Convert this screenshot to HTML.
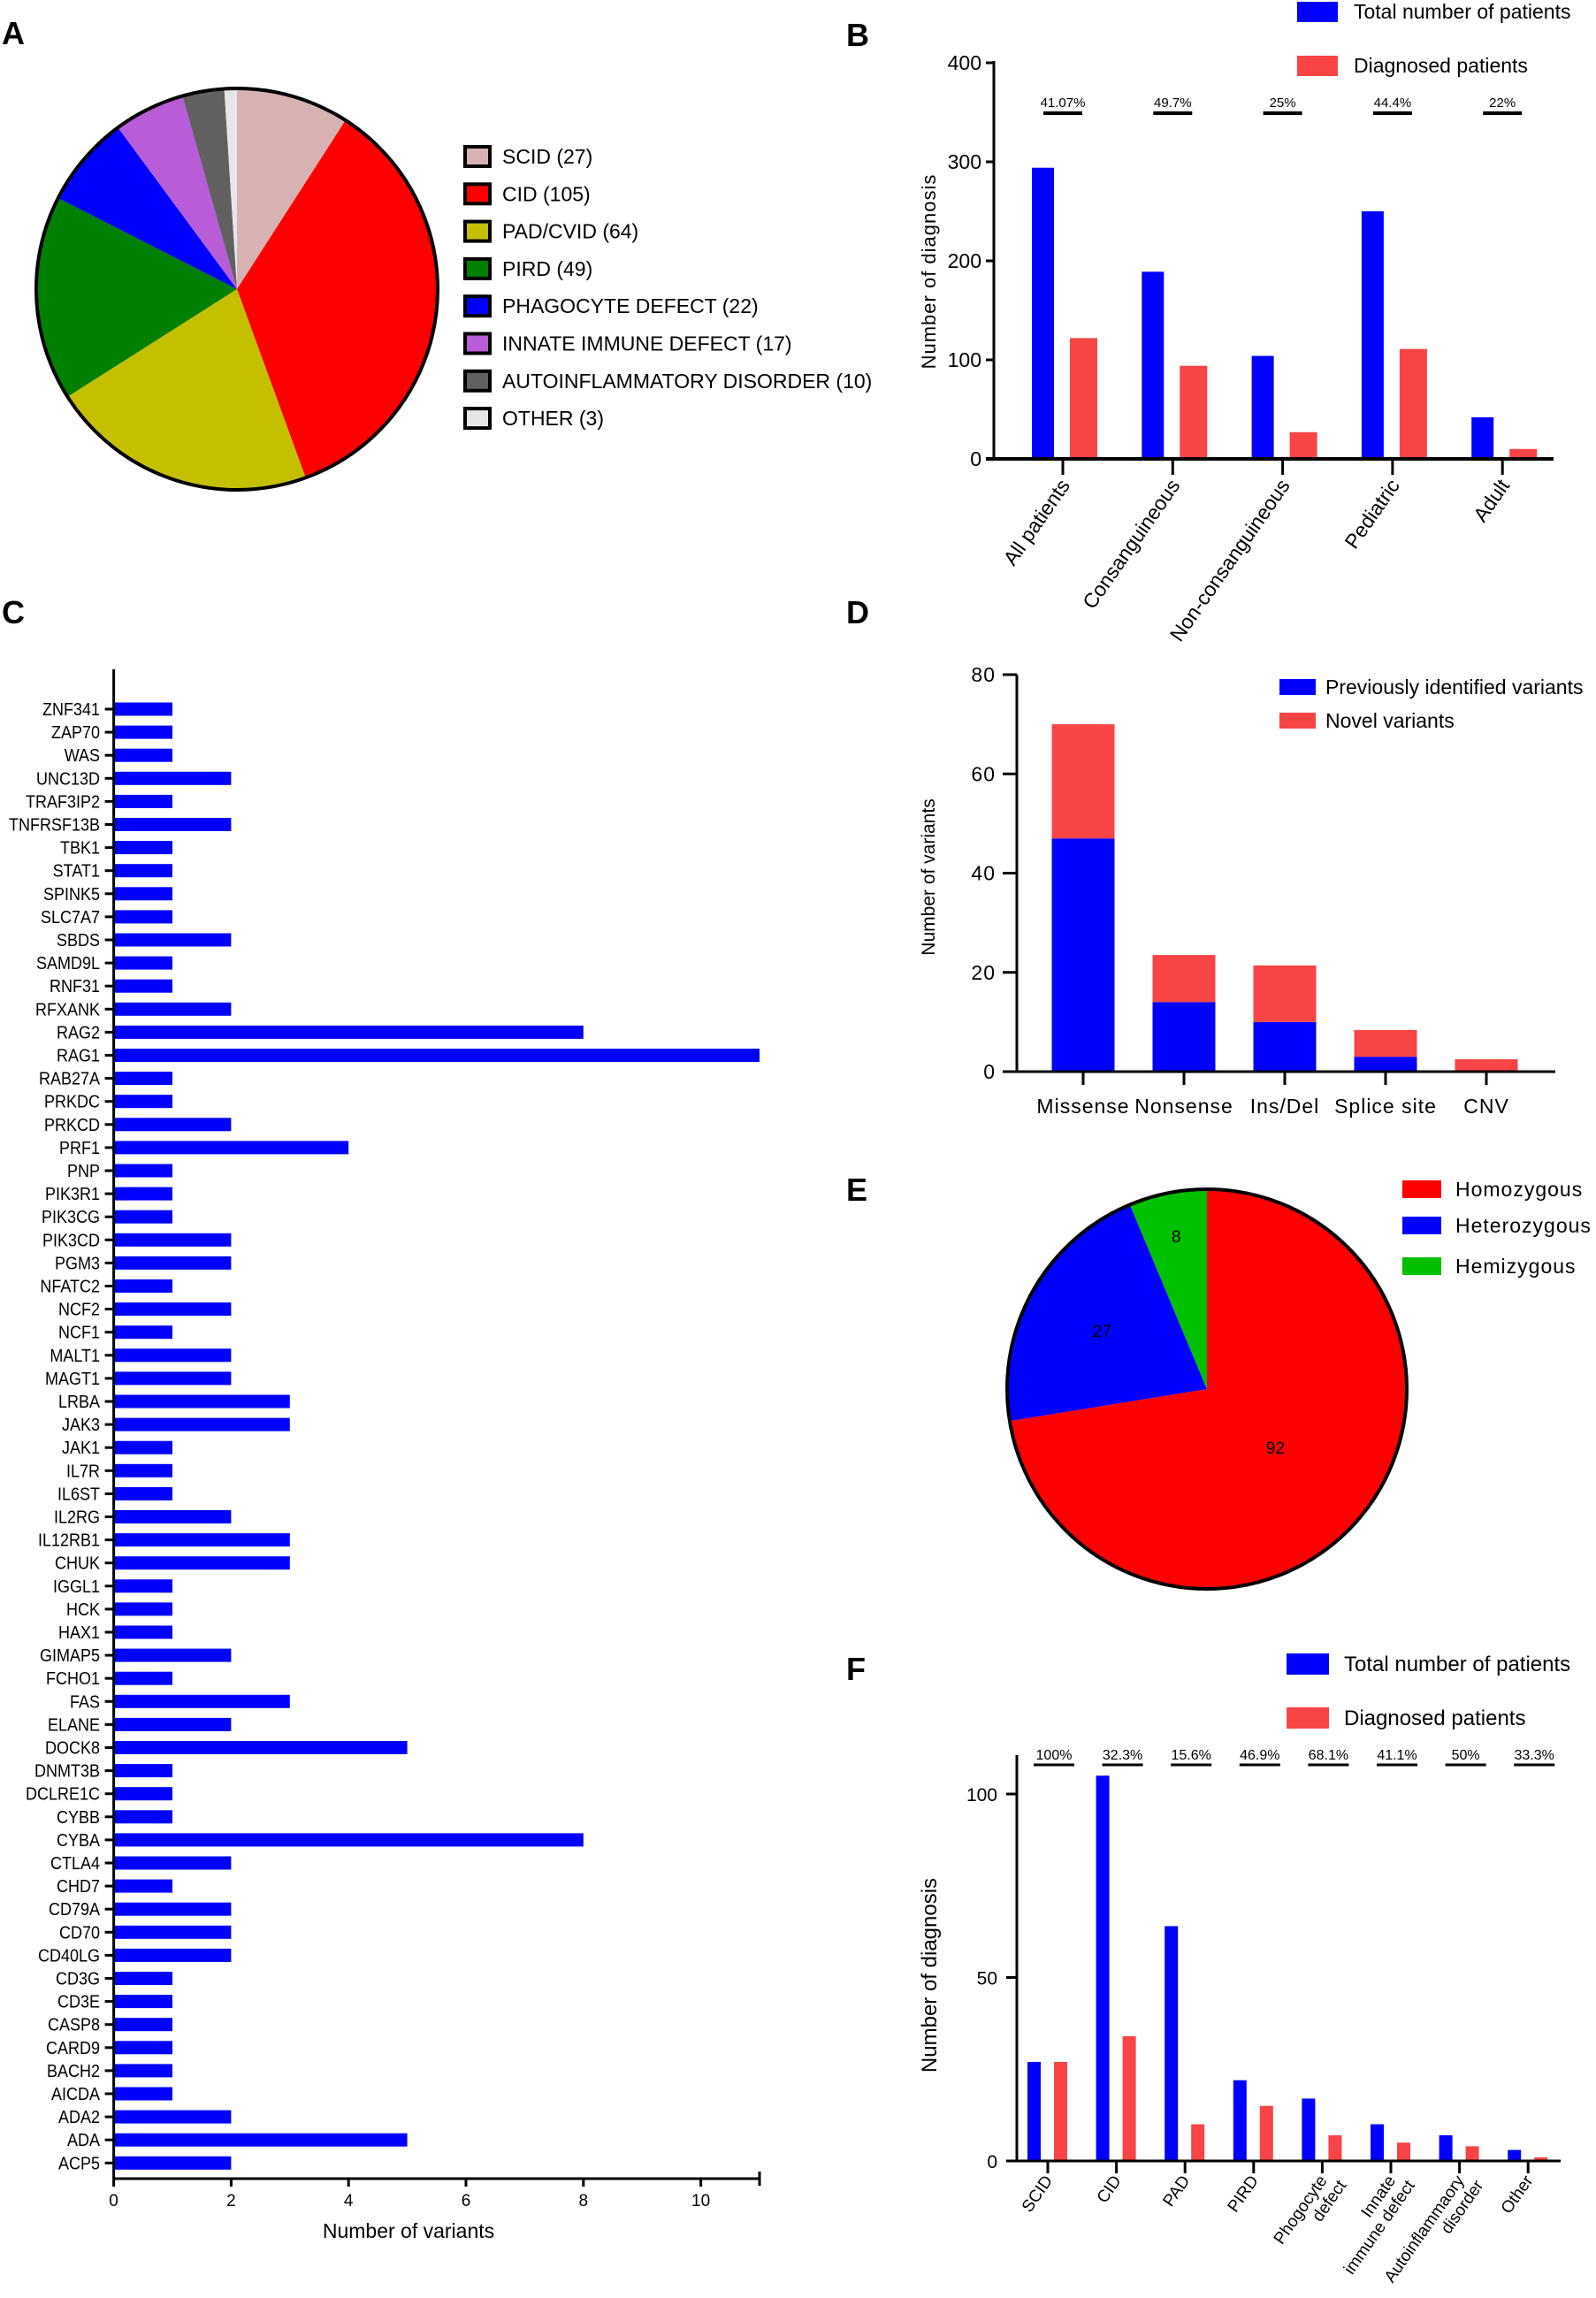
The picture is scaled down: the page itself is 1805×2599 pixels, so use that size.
<!DOCTYPE html>
<html><head><meta charset="utf-8"><style>
html,body{margin:0;padding:0;background:#fff;}
svg{display:block;font-family:"Liberation Sans",Arial,sans-serif;}
</style></head><body>
<svg id="fig" width="1805" height="2599" viewBox="0 0 1805 2599" xmlns="http://www.w3.org/2000/svg">
<rect x="0" y="0" width="1805" height="2599" fill="#fff"/>
</svg>
<script>
// ---- Panel A data ----
const pieACats = ['SCID','CID','PAD/CVID','PIRD','PHAGOCYTE DEFECT','INNATE IMMUNE DEFECT','AUTOINFLAMMATORY DISORDER','OTHER'];
const pieAValues = [27,105,64,49,22,17,10,3];
const pieAColors = ['#d8b2b2','#ff0000','#c4c000','#008000','#0000ff','#b85cd8','#606060','#e6e6e6'];
// ---- Panel B data ----
const bCats = ['All patients','Consanguineous','Non-consanguineous','Pediatric','Adult'];
const bTotal = [294,189,104,250,42];
const bDiag = [122,94,27,111,10];
const bPct = ['41.07%','49.7%','25%','44.4%','22%'];
const bTicks = [0,100,200,300,400];
// ---- Panel C data ----
const cGenes = ['ZNF341','ZAP70','WAS','UNC13D','TRAF3IP2','TNFRSF13B','TBK1','STAT1','SPINK5','SLC7A7','SBDS','SAMD9L','RNF31','RFXANK','RAG2','RAG1','RAB27A','PRKDC','PRKCD','PRF1','PNP','PIK3R1','PIK3CG','PIK3CD','PGM3','NFATC2','NCF2','NCF1','MALT1','MAGT1','LRBA','JAK3','JAK1','IL7R','IL6ST','IL2RG','IL12RB1','CHUK','IGGL1','HCK','HAX1','GIMAP5','FCHO1','FAS','ELANE','DOCK8','DNMT3B','DCLRE1C','CYBB','CYBA','CTLA4','CHD7','CD79A','CD70','CD40LG','CD3G','CD3E','CASP8','CARD9','BACH2','AICDA','ADA2','ADA','ACP5'];
const cValues = [1,1,1,2,1,2,1,1,1,1,2,1,1,2,8,11,1,1,2,4,1,1,1,2,2,1,2,1,2,2,3,3,1,1,1,2,3,3,1,1,1,2,1,3,2,5,1,1,1,8,2,1,2,2,2,1,1,1,1,1,1,2,5,2];
const cTicks = [0,2,4,6,8,10];
// ---- Panel D data ----
const dCats = ['Missense','Nonsense','Ins/Del','Splice site','CNV'];
const dPrev = [47,14,10,3,0];
const dNovel = [23,9.5,11.4,5.4,2.5];
const dTicks = [0,20,40,60,80];
// ---- Panel E data ----
const eCats = ['Homozygous','Heterozygous','Hemizygous'];
const eValues = [92,27,8];
const eColors = ['#ff0000','#0000ff','#00c000'];
// ---- Panel F data ----
const fCats = [['SCID'],['CID'],['PAD'],['PIRD'],['Phogocyte','defect'],['Innate','immune defect'],['Autoinflammaory','disorder'],['Other']];
const fTotal = [27,105,64,22,17,10,7,3];
const fDiag = [27,34,10,15,7,5,4,1];
const fPct = ['100%','32.3%','15.6%','46.9%','68.1%','41.1%','50%','33.3%'];
const fTicks = [0,50,100];

const NS='http://www.w3.org/2000/svg';
const svg=document.getElementById('fig');
function mk(tag,attrs,parent,text){const e=document.createElementNS(NS,tag);for(const k in attrs)e.setAttribute(k,attrs[k]);if(text!==undefined)e.textContent=text;(parent||svg).appendChild(e);return e;}
function grp(name){const g=mk('g',{});return g;}
function pie(g,cx,cy,r,vals,cols,names){
  const tot=vals.reduce((a,b)=>a+b,0);let a0=0;const mids=[];
  vals.forEach((v,i)=>{const a1=a0+v/tot*Math.PI*2;
    const x0=cx+r*Math.sin(a0),y0=cy-r*Math.cos(a0),x1=cx+r*Math.sin(a1),y1=cy-r*Math.cos(a1);
    const large=(a1-a0)>Math.PI?1:0;
    const p=mk('path',{d:`M${cx},${cy}L${x0},${y0}A${r},${r} 0 ${large} 1 ${x1},${y1}Z`,fill:cols[i]},g);
    
    
    mids.push((a0+a1)/2);a0=a1;});
  mk('circle',{cx:cx,cy:cy,r:r,fill:'none',stroke:'#000','stroke-width':4},g);
  return mids;
}
function label(txt,x,y,name){const t=mk('text',{x:x,y:y,'font-size':36,'font-weight':'bold'},svg,txt);}
label('A',2,50,'panel-a-label');label('B',957,52,'panel-b-label');label('C',2,705,'panel-c-label');
label('D',957,705,'panel-d-label');label('E',957,1358,'panel-e-label');label('F',957,1900,'panel-f-label');

// ===== Panel A =====
(function(){const g=grp('panel-a-pie');
pie(g,268,327,227,pieAValues,pieAColors,pieACats);
const lg=grp('panel-a-legend');
pieACats.forEach((c,i)=>{const y=176+i*42.3;
  const b=mk('rect',{x:526,y:y-10,width:28,height:22,fill:pieAColors[i],stroke:'#000','stroke-width':4},lg);
  
  const t=mk('text',{x:568,y:y+9,'font-size':23},lg,c+' ('+pieAValues[i]+')');
  });
})();

// ===== Panel B =====
(function(){const g=grp('panel-b-chart');
const y0=519,yT=71,xA=1124,xE=1757;
const yB=v=>y0-v*(y0-yT)/400; const xB=i=>1202+i*124.3;
bTicks.forEach(t=>{mk('line',{x1:xA-9,x2:xA,y1:yB(t),y2:yB(t),stroke:'#000','stroke-width':3},g);
  const tx=mk('text',{x:xA-14,y:yB(t)+8,'font-size':23,'text-anchor':'end'},g,t);
  });
bCats.forEach((c,i)=>{const x=xB(i);
  const b1=mk('rect',{x:x-35,y:yB(bTotal[i]),width:25,height:y0-yB(bTotal[i]),fill:'#0000ff'},g);
  
  const b2=mk('rect',{x:x+8,y:yB(bDiag[i]),width:31,height:y0-yB(bDiag[i]),fill:'#f84444'},g);
  
  mk('line',{x1:x,x2:x,y1:y0,y2:y0+18,stroke:'#000','stroke-width':3},g);
  const t=mk('text',{x:0,y:0,'font-size':23,'text-anchor':'end',transform:`translate(${x+9},${y0+30}) rotate(-55)`},g,c);
  
  mk('line',{x1:x-22,x2:x+22,y1:128,y2:128,stroke:'#000','stroke-width':4},g);
  const p=mk('text',{x:x,y:121,'font-size':15,'text-anchor':'middle'},g,bPct[i]);
  });
mk('line',{x1:xA,x2:xA,y1:yT-2,y2:y0+2,stroke:'#000','stroke-width':3},g);
mk('line',{x1:xA-9,x2:xE,y1:y0,y2:y0,stroke:'#000','stroke-width':4},g);
const yl=mk('text',{x:0,y:0,'font-size':22,'text-anchor':'middle','letter-spacing':1,transform:'translate(1058,307) rotate(-90)'},g,'Number of diagnosis');

const lg=grp('panel-b-legend');
mk('rect',{x:1467,y:2,width:46,height:23,fill:'#0000ff'},lg);
mk('text',{x:1531,y:21,'font-size':23},lg,'Total number of patients');
mk('rect',{x:1467,y:63,width:46,height:23,fill:'#f84444'},lg);
mk('text',{x:1531,y:82,'font-size':23},lg,'Diagnosed patients');
})();

// ===== Panel C =====
(function(){const g=grp('panel-c-chart');
const xA=128.6,yA=2464;const xC=v=>xA+v*66.4;const yC=i=>802+i*26.1;
cGenes.forEach((n,i)=>{const y=yC(i);
  const b=mk('rect',{x:xA,y:y-7.5,width:xC(cValues[i])-xA,height:15,fill:'#0000ff'},g);
  
  mk('line',{x1:xA-10,x2:xA,y1:y,y2:y,stroke:'#000','stroke-width':3},g);
  const t=mk('text',{x:0,y:0,'font-size':20,'text-anchor':'end',transform:`translate(113,${y+7}) scale(0.9,1)`},g,n);
  });
cTicks.forEach(t=>{mk('line',{x1:xC(t),x2:xC(t),y1:yA,y2:yA+9,stroke:'#000','stroke-width':3},g);
  const tx=mk('text',{x:xC(t),y:yA+31,'font-size':19,'text-anchor':'middle'},g,t);
  });
mk('line',{x1:xC(11),x2:xC(11),y1:yA-8,y2:yA+8,stroke:'#000','stroke-width':3},g);
mk('line',{x1:xA,x2:xA,y1:757,y2:yA,stroke:'#000','stroke-width':3},g);
mk('line',{x1:xA,x2:xC(11),y1:yA,y2:yA,stroke:'#000','stroke-width':3},g);
const xl=mk('text',{x:462,y:2531,'font-size':23,'text-anchor':'middle'},g,'Number of variants');

})();

// ===== Panel D =====
(function(){const g=grp('panel-d-chart');
const y0=1212,xA=1150;const yD=v=>y0-v*5.6125;const xD=i=>1225+i*114;
dTicks.forEach(t=>{mk('line',{x1:xA-16,x2:xA,y1:yD(t),y2:yD(t),stroke:'#000','stroke-width':3},g);
  const tx=mk('text',{x:xA-24,y:yD(t)+8,'font-size':23,'text-anchor':'end','letter-spacing':1},g,t);
  });
dCats.forEach((c,i)=>{const x=xD(i);
  const b1=mk('rect',{x:x-35.5,y:yD(dPrev[i]),width:71,height:y0-yD(dPrev[i]),fill:'#0000ff'},g);
  
  const b2=mk('rect',{x:x-35.5,y:yD(dPrev[i]+dNovel[i]),width:71,height:yD(dPrev[i])-yD(dPrev[i]+dNovel[i]),fill:'#f84444'},g);
  
  mk('line',{x1:x,x2:x,y1:y0,y2:y0+15,stroke:'#000','stroke-width':3},g);
  const t=mk('text',{x:x,y:1259,'font-size':23,'text-anchor':'middle','letter-spacing':1},g,c);
  });
mk('line',{x1:xA,x2:xA,y1:yD(80),y2:y0,stroke:'#000','stroke-width':3},g);
mk('line',{x1:xA-16,x2:1759,y1:y0,y2:y0,stroke:'#000','stroke-width':3},g);
const yl=mk('text',{x:0,y:0,'font-size':21,'text-anchor':'middle',transform:'translate(1057,992) rotate(-90)'},g,'Number of variants');

const lg=grp('panel-d-legend');
mk('rect',{x:1447,y:768,width:41,height:18,fill:'#0000ff'},lg);
mk('text',{x:1499,y:785,'font-size':23},lg,'Previously identified variants');
mk('rect',{x:1447,y:806,width:41,height:18,fill:'#f84444'},lg);
mk('text',{x:1499,y:823,'font-size':23},lg,'Novel variants');
})();

// ===== Panel E =====
(function(){const g=grp('panel-e-pie');
const cx=1365,cy=1571,r=226;
const mids=pie(g,cx,cy,r,eValues,eColors,eCats);
const lr=[0.45,0.6,0.78];
eValues.forEach((v,i)=>{const a=mids[i];
  const t=mk('text',{x:cx+r*lr[i]*Math.sin(a),y:cy-r*lr[i]*Math.cos(a)+7,'font-size':19,'text-anchor':'middle'},g,v);
  });
const lg=grp('panel-e-legend');
eCats.forEach((c,i)=>{const y=[1345,1386,1432][i];
  const b=mk('rect',{x:1586,y:y-10,width:44,height:20,fill:eColors[i]},lg);
  
  const t=mk('text',{x:1646,y:y+8,'font-size':23,'letter-spacing':1},lg,c);
  });
})();

// ===== Panel F =====
(function(){const g=grp('panel-f-chart');
const y0=2444,xA=1150;const yF=v=>y0-v*4.15;const xF=i=>1185+i*77.6;
fTicks.forEach(t=>{mk('line',{x1:xA-12,x2:xA,y1:yF(t),y2:yF(t),stroke:'#000','stroke-width':3},g);
  const tx=mk('text',{x:xA-22,y:yF(t)+8,'font-size':21,'text-anchor':'end'},g,t);
  });
fCats.forEach((c,i)=>{const x=xF(i);
  const b1=mk('rect',{x:x-23,y:yF(fTotal[i]),width:15,height:y0-yF(fTotal[i]),fill:'#0000ff'},g);
  
  const b2=mk('rect',{x:x+7,y:yF(fDiag[i]),width:15,height:y0-yF(fDiag[i]),fill:'#f84444'},g);
  
  mk('line',{x1:x,x2:x,y1:y0,y2:y0+14,stroke:'#000','stroke-width':3},g);
  const t=mk('text',{x:0,y:0,'font-size':19,'text-anchor':'end',transform:`translate(${x+6},${y0+22}) rotate(-55)`},g);
  c.forEach((ln,j)=>{mk('tspan',{x:j?8:0,dy:j?'1.1em':0},t,ln);});
  
  const cxp=x+7;
  mk('line',{x1:cxp-23,x2:cxp+23,y1:1996,y2:1996,stroke:'#000','stroke-width':3},g);
  const p=mk('text',{x:cxp,y:1990,'font-size':16,'text-anchor':'middle'},g,fPct[i]);
  });
mk('line',{x1:xA,x2:xA,y1:1985,y2:y0,stroke:'#000','stroke-width':3},g);
mk('line',{x1:xA-12,x2:1765,y1:y0,y2:y0,stroke:'#000','stroke-width':3},g);
const yl=mk('text',{x:0,y:0,'font-size':24,'text-anchor':'middle',transform:'translate(1059,2234) rotate(-90)'},g,'Number of diagnosis');

const lg=grp('panel-f-legend');
mk('rect',{x:1455,y:1870,width:48,height:24,fill:'#0000ff'},lg);
mk('text',{x:1520,y:1890,'font-size':24},lg,'Total number of patients');
mk('rect',{x:1455,y:1931,width:48,height:24,fill:'#f84444'},lg);
mk('text',{x:1520,y:1951,'font-size':24},lg,'Diagnosed patients');
})();
</script>
</body></html>
